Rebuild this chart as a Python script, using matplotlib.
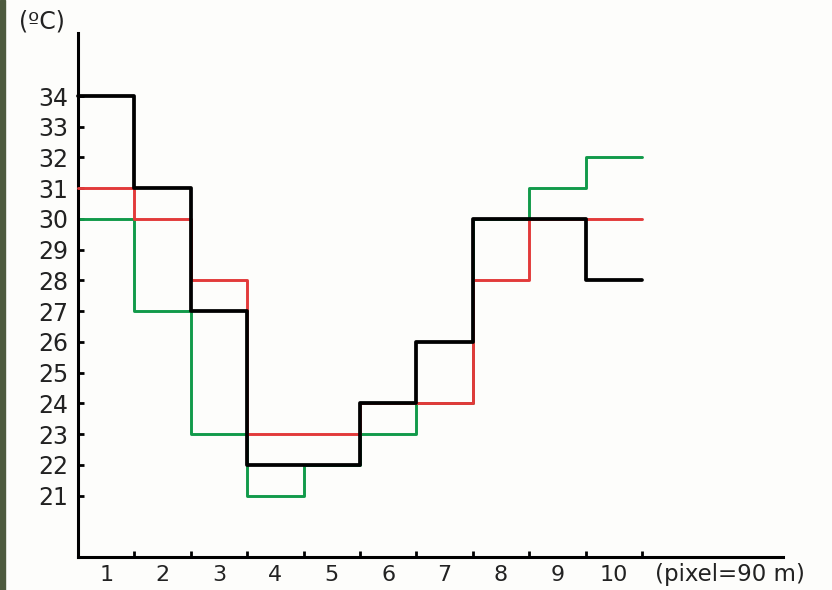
import numpy as np
import matplotlib
matplotlib.use('Agg')
import matplotlib.pyplot as plt
from matplotlib.patches import Rectangle

# temperature per pixel (1..10)
pixels = [1, 2, 3, 4, 5, 6, 7, 8, 9, 10]
black_vals = [34, 31, 27, 22, 22, 24, 26, 30, 30, 28]
red_vals = [31, 30, 28, 23, 23, 24, 24, 28, 30, 30]
green_vals = [30, 27, 23, 21, 22, 23, 24, 30, 31, 32]
y_ticks = list(range(21, 35))

fig = plt.figure(figsize=(8.32, 5.90), dpi=100)
fig.patch.set_facecolor('#fdfdfb')
ax = fig.add_axes([78 / 832, 33 / 590, (783 - 78) / 832, (557 - 33) / 590])
ax.set_facecolor('#fdfdfb')

# thin photo strip on the far left edge
fig.patches.append(Rectangle((0, 0), 5 / 832, 1, transform=fig.transFigure,
                             color='#4d5a3e', zorder=0))

edges = np.arange(len(pixels) + 1)


def step_line(vals, color, lw, z):
    ax.step(edges, vals + [vals[-1]], where='post', color=color, lw=lw,
            zorder=z, solid_capstyle='round', solid_joinstyle='round',
            clip_on=False)


step_line(green_vals, '#119a4a', 2.1, 2)
step_line(red_vals, '#e23a3a', 2.1, 3)
step_line(black_vals, 'black', 2.7, 4)

ax.set_xlim(0, 12.5)
ax.set_ylim(19, 36.05)

for s in ['top', 'right']:
    ax.spines[s].set_visible(False)
for s in ['left', 'bottom']:
    ax.spines[s].set_linewidth(2.2)

# boundary ticks on x, labels centred on each pixel
ax.set_xticks(edges[1:])
ax.set_xticklabels([])
ax.set_xticks(np.array(pixels) - 0.5, minor=True)
ax.set_xticklabels([str(p) for p in pixels], minor=True)
ax.tick_params(axis='x', which='major', direction='in', length=4, width=2)
ax.tick_params(axis='x', which='minor', length=0, pad=6, labelsize=16,
               labelcolor='#222222')

ax.set_yticks(y_ticks)
ax.tick_params(axis='y', direction='in', length=4, width=2, pad=7,
               labelsize=17, labelcolor='#222222')

fig.text(19 / 832, 1 - 22 / 590, '(ºC)', fontsize=17, color='#222222',
         va='center', ha='left')
fig.text(655 / 832, 1 - 575 / 590, '(pixel=90 m)', fontsize=16.5,
         color='#222222', va='center', ha='left')

fig.savefig('out.png', dpi=100, facecolor=fig.get_facecolor())
